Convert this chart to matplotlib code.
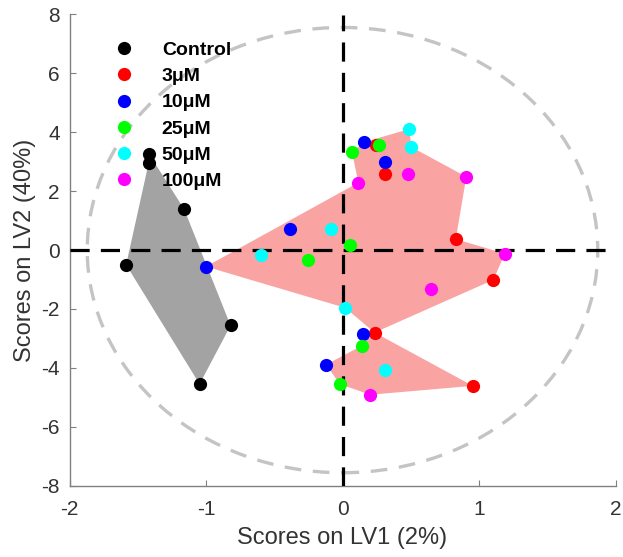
import matplotlib

matplotlib.use("Agg")

import matplotlib.pyplot as plt
import numpy as np
from matplotlib.patches import Ellipse, Polygon

plt.rcParams["font.family"] = ["Liberation Sans", "DejaVu Sans"]
plt.rcParams["axes.unicode_minus"] = False

groups = ["Control", "3μM", "10μM", "25μM", "50μM", "100μM"]
colors = ["#000000", "#FF0000", "#0000FF", "#00FF00", "#00FFFF", "#FF00FF"]

lv1 = {
    "Control": [-1.42, -1.42, -1.16, -1.585, -0.82, -1.047],
    "3μM": [0.245, 0.31, 0.83, 1.105, 0.235, 0.955],
    "10μM": [-1.0, -0.385, 0.16, 0.31, 0.153, -0.12],
    "25μM": [-0.25, 0.058, 0.07, 0.264, 0.14, -0.02],
    "50μM": [-0.087, -0.60, 0.49, 0.504, 0.02, 0.31],
    "100μM": [0.116, 0.48, 0.907, 1.19, 0.652, 0.204],
}
lv2 = {
    "Control": [3.28, 2.96, 1.39, -0.50, -2.56, -4.55],
    "3μM": [3.56, 2.57, 0.37, -1.01, -2.80, -4.61],
    "10μM": [-0.56, 0.71, 3.67, 3.0, -2.84, -3.89],
    "25μM": [-0.33, 0.18, 3.33, 3.56, -3.25, -4.55],
    "50μM": [0.71, -0.15, 4.11, 3.50, -1.96, -4.07],
    "100μM": [2.29, 2.60, 2.49, -0.12, -1.31, -4.91],
}

# outlines drawn through (group, sample index) pairs
control_outline = [("Control", i) for i in [0, 2, 4, 5, 3, 1]]
treated_upper = [
    ("10μM", 0), ("100μM", 0), ("25μM", 2), ("10μM", 2), ("50μM", 2),
    ("50μM", 3), ("100μM", 2), ("3μM", 2), ("100μM", 3), ("3μM", 3),
    ("3μM", 4), ("50μM", 4),
]
treated_lower = [
    ("3μM", 4), ("3μM", 5), ("100μM", 5), ("25μM", 5), ("10μM", 5), ("25μM", 4),
]

ellipse_radius_lv1 = 1.87
ellipse_radius_lv2 = 7.56


def outline_points(outline):
    return np.array([[lv1[g][i], lv2[g][i]] for g, i in outline])


fig = plt.figure(figsize=(6.23, 5.57), dpi=100)
ax = fig.add_axes([69.5 / 623, 1 - 485.7 / 557, 546 / 623, 471.2 / 557])

ax.add_patch(Ellipse((0, 0), 2 * ellipse_radius_lv1, 2 * ellipse_radius_lv2,
                     fill=False, edgecolor="#C4C4C4", linewidth=2.4,
                     linestyle=(0, (5, 3.5)), zorder=1))

ax.add_patch(Polygon(outline_points(control_outline), closed=True,
                     facecolor="#A3A3A3", edgecolor="none", zorder=2))
for outline in [treated_upper, treated_lower]:
    ax.add_patch(Polygon(outline_points(outline), closed=True,
                         facecolor="#F9A3A3", edgecolor="none", zorder=2))

ax.axhline(0, color="black", linewidth=2.3, linestyle=(0, (6, 3.5)), zorder=3)
ax.axvline(0, color="black", linewidth=2.3, linestyle=(0, (6, 3.5)), zorder=3)

for group, color in zip(groups, colors):
    ax.plot(lv1[group], lv2[group], "o", color=color, markersize=9.5,
            markeredgewidth=0, label=group, zorder=4)

ax.set_xlim(-2, 2)
ax.set_ylim(-8, 8)
ax.set_xticks([-2, -1, 0, 1, 2])
ax.set_yticks(range(-8, 9, 2))
ax.set_xlabel("Scores on LV1 (2%)", fontsize=17, color="#333333", labelpad=6)
ax.set_ylabel("Scores on LV2 (40%)", fontsize=17, color="#333333", labelpad=4)

for side in ["top", "right"]:
    ax.spines[side].set_visible(False)
for side in ["left", "bottom"]:
    ax.spines[side].set_color("#808080")
    ax.spines[side].set_linewidth(1.0)
ax.tick_params(direction="in", length=4, color="#808080", labelsize=15,
               labelcolor="#333333")
ax.tick_params(axis="x", pad=10)
ax.tick_params(axis="y", pad=7)

legend = ax.legend(loc="upper left", bbox_to_anchor=(0.039, 0.98), frameon=False,
                   handlelength=1.6, handletextpad=1.15, labelspacing=0.44,
                   prop={"weight": "bold", "size": 14})

fig.savefig("out.png", dpi=100)
plt.close(fig)
